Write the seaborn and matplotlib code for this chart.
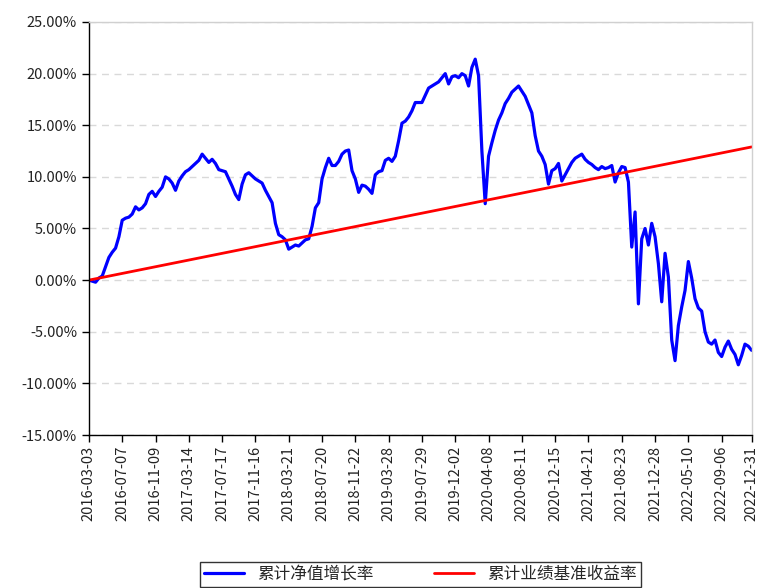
import numpy as np
import pandas as pd
import seaborn as sns
import matplotlib.pyplot as plt
from matplotlib.ticker import FuncFormatter

nav_growth = [
    0.0, -0.1, -0.2, 0.2, 0.4, 1.3, 2.2, 2.7, 3.1, 4.2,
    5.8, 6.0, 6.1, 6.4, 7.1, 6.8, 7.0, 7.4, 8.3, 8.6,
    8.1, 8.6, 9.0, 10.0, 9.8, 9.4, 8.7, 9.6, 10.1, 10.5,
    10.7, 11.0, 11.3, 11.6, 12.2, 11.8, 11.4, 11.7, 11.3, 10.7,
    10.6, 10.5, 9.8, 9.1, 8.3, 7.8, 9.3, 10.2, 10.4, 10.1,
    9.8, 9.6, 9.4, 8.7, 8.1, 7.5, 5.5, 4.4, 4.2, 3.9,
    3.0, 3.2, 3.4, 3.3, 3.6, 3.9, 4.0, 5.2, 7.0, 7.5,
    9.8, 10.9, 11.8, 11.1, 11.1, 11.5, 12.2, 12.5, 12.6, 10.6,
    9.8, 8.5, 9.2, 9.1, 8.8, 8.4, 10.2, 10.5, 10.6, 11.6,
    11.8, 11.5, 12.0, 13.5, 15.2, 15.4, 15.8, 16.4, 17.2, 17.2,
    17.2, 17.9, 18.6, 18.8, 19.0, 19.2, 19.6, 20.0, 19.0, 19.7,
    19.8, 19.6, 20.0, 19.8, 18.8, 20.6, 21.4, 19.8, 12.5, 7.4,
    12.0, 13.3, 14.5, 15.5, 16.2, 17.1, 17.6, 18.2, 18.5, 18.8,
    18.3, 17.8, 17.0, 16.2, 14.0, 12.5, 12.0, 11.2, 9.3, 10.6,
    10.8, 11.3, 9.6, 10.2, 10.8, 11.4, 11.8, 12.0, 12.2, 11.7,
    11.4, 11.2, 10.9, 10.7, 11.0, 10.8, 10.9, 11.1, 9.5, 10.4,
    11.0, 10.9, 9.5, 3.2, 6.6, -2.3, 4.0, 5.0, 3.4, 5.5,
    4.2, 1.6, -2.1, 2.6, 0.3, -5.8, -7.8, -4.4, -2.6, -1.0,
    1.8, 0.2, -1.8, -2.7, -3.0, -5.0, -6.0, -6.2, -5.8, -7.0,
    -7.4, -6.5, -5.9, -6.7, -7.2, -8.2, -7.3, -6.2, -6.4, -6.8,
]

# benchmark cumulative return (%), straight line: first and last point
bench_idx = [0, 199]
bench_val = [0.0, 12.9]

tick_labels = [
    "2016-03-03", "2016-07-07", "2016-11-09", "2017-03-14", "2017-07-17",
    "2017-11-16", "2018-03-21", "2018-07-20", "2018-11-22", "2019-03-28",
    "2019-07-29", "2019-12-02", "2020-04-08", "2020-08-11", "2020-12-15",
    "2021-04-21", "2021-08-23", "2021-12-28", "2022-05-10", "2022-09-06",
    "2022-12-31",
]
tick_pos = list(range(0, 200, 10)) + [199]

sns.set_style("white")
plt.rcParams["font.family"] = ["Noto Sans CJK SC", "DejaVu Sans"]
plt.rcParams["axes.unicode_minus"] = False

nav_df = pd.DataFrame({"idx": np.arange(len(nav_growth)), "val": nav_growth})
bench_df = pd.DataFrame({"idx": bench_idx, "val": bench_val})

fig, ax = plt.subplots(figsize=(7.6, 5.88), dpi=100)
fig.subplots_adjust(left=0.117, right=0.989, top=0.9626, bottom=0.2602)

sns.lineplot(data=nav_df, x="idx", y="val", ax=ax, color="#0000ff",
             linewidth=2.3, label="累计净值增长率")
sns.lineplot(data=bench_df, x="idx", y="val", ax=ax, color="#ff0000",
             linewidth=2.0, label="累计业绩基准收益率")

ax.set_xlim(0, 199)
ax.set_ylim(-15, 25)
ax.set_yticks(np.arange(-15, 26, 5))
ax.yaxis.set_major_formatter(FuncFormatter(lambda v, p: f"{v:.2f}%"))
ax.set_xticks(tick_pos)
ax.set_xticklabels(tick_labels, rotation=90)
ax.set_xlabel("")
ax.set_ylabel("")

ax.grid(axis="y", linestyle=(0, (5, 4)), color="#d9d9d9", linewidth=1.0)
ax.grid(axis="x", visible=False)
ax.set_axisbelow(True)

for side in ["left", "bottom"]:
    ax.spines[side].set_color("black")
    ax.spines[side].set_linewidth(1.0)
for side in ["top", "right"]:
    ax.spines[side].set_color("#d0d0d0")
    ax.spines[side].set_linewidth(1.0)

ax.tick_params(axis="both", which="major", direction="out", length=5,
               width=1, color="black", labelsize=10.5, labelcolor="#222222")
ax.tick_params(axis="x", pad=3)
ax.tick_params(left=True, bottom=True)

ax.legend(loc="upper center", bbox_to_anchor=(0.5, -0.307), ncol=2,
          frameon=True, fancybox=False, edgecolor="black", fontsize=12,
          handlelength=2.4, columnspacing=3.6, borderpad=0.25,
          borderaxespad=0)
ax.get_legend().get_frame().set_linewidth(1.0)

fig.savefig("out.png", dpi=100)
